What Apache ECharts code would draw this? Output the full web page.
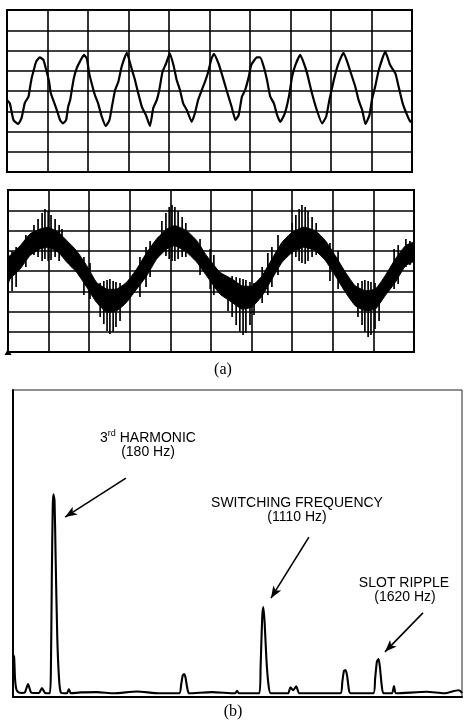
<!DOCTYPE html>
<html><head><meta charset="utf-8">
<script src="https://cdn.jsdelivr.net/npm/echarts@6/dist/echarts.min.js"></script>
<style>html,body{margin:0;padding:0;background:#fff}#c{width:464px;height:722px}</style>
</head><body><div id="c"></div>
<script>
// ---- (a) upper oscillogram: time (divisions) and voltage (divisions) ----
const topX = [0.00,0.07,0.16,0.28,0.36,0.44,0.53,0.57,0.61,0.65,0.72,0.81,0.90,0.98,1.04,1.08,1.14,1.23,1.31,1.38,1.46,1.51,1.56,1.60,1.65,1.72,1.80,1.90,1.97,2.03,2.09,2.17,2.25,2.34,2.44,2.53,2.59,2.67,2.75,2.83,2.96,3.04,3.10,3.16,3.24,3.33,3.43,3.53,3.61,3.70,3.76,3.84,3.93,4.02,4.11,4.19,4.27,4.35,4.44,4.56,4.64,4.72,4.81,4.89,4.97,5.05,5.11,5.22,5.30,5.42,5.55,5.64,5.72,5.80,5.88,5.97,6.03,6.17,6.25,6.34,6.42,6.50,6.59,6.67,6.75,6.86,6.96,7.04,7.12,7.24,7.33,7.41,7.53,7.65,7.78,7.88,7.96,8.07,8.17,8.31,8.40,8.48,8.60,8.68,8.77,8.85,8.95,9.01,9.09,9.18,9.34,9.46,9.59,9.67,9.77,9.88,9.96,10.0];
const topY = [-0.44,-0.61,-1.43,-1.63,-1.33,-0.59,-0.28,0.20,0.64,0.95,1.45,1.66,1.53,0.95,0.46,-0.10,-0.44,-0.94,-1.43,-1.60,-1.43,-0.78,-0.44,0.05,0.63,1.12,1.45,1.78,1.61,0.87,0.38,-0.20,-0.61,-1.27,-1.73,-1.43,-0.78,0.05,0.46,1.20,1.89,1.37,0.95,0.54,-0.11,-0.78,-1.19,-1.73,-0.85,-0.44,0.05,0.95,1.37,1.86,1.28,0.54,0.05,-0.61,-0.94,-1.52,-1.10,-0.44,0.05,0.46,0.95,1.61,1.83,1.37,0.87,0.05,-0.80,-1.43,-1.19,-0.28,0.05,0.71,1.28,1.66,1.66,1.20,0.54,-0.28,-0.61,-1.19,-1.52,-1.10,-0.28,0.71,1.28,1.78,1.37,0.87,-0.11,-0.94,-1.60,-1.27,-0.44,0.54,1.28,1.89,1.45,0.95,0.21,-0.44,-0.94,-1.63,-1.19,-0.44,0.21,1.04,1.94,1.28,0.87,0.21,-0.61,-1.19,-1.52,-1.43];

// ---- (a) lower oscillogram: ripple band envelope ----
const botX = [0,0.05,0.30,0.54,0.79,0.99,1.24,1.45,1.69,1.94,2.18,2.43,2.68,2.92,3.17,3.42,3.66,3.91,4.11,4.40,4.65,4.89,5.22,5.52,5.76,6.01,6.26,6.50,6.75,7.00,7.28,7.57,7.82,8.06,8.31,8.55,8.80,9.05,9.29,9.54,9.79,10.0];
const botUpper = [0.69,0.76,1.25,1.83,2.07,2.16,1.91,1.50,1.00,0.26,-0.56,-0.89,-0.89,-0.56,0.10,0.92,1.58,2.07,2.24,1.99,1.50,0.76,-0.06,-0.40,-0.73,-0.74,-0.23,0.59,1.42,1.91,2.16,1.99,1.50,0.76,-0.06,-0.73,-0.97,-0.89,-0.23,0.59,1.25,1.42];
const botLower = [-0.64,-0.40,0.10,0.76,1.09,1.17,0.92,0.43,-0.06,-0.80,-1.55,-2.04,-1.96,-1.55,-0.89,-0.23,0.59,1.09,1.25,0.92,0.43,-0.23,-1.14,-1.55,-1.88,-1.78,-1.22,-0.40,0.43,0.92,1.17,1.00,0.51,-0.23,-1.05,-1.71,-1.96,-1.88,-1.22,-0.56,0.26,0.49];
// ripple spikes: [time, low, high]
const spikes = [[0.10,-0.99,0.99],[0.20,-0.79,1.19],[0.44,0.20,1.78],[0.64,0.79,2.27],[0.74,0.69,2.57],[0.84,0.49,2.86],[0.91,0.59,3.06],[0.99,0.49,2.96],[1.06,0.54,2.77],[1.16,0.69,2.57],[1.26,0.49,2.27],[1.33,0.74,2.07],[1.87,-1.19,0.69],[2.02,-1.38,0.40],[2.27,-2.27,-0.59],[2.36,-2.62,-0.49],[2.44,-2.96,-0.44],[2.51,-3.11,-0.40],[2.59,-3.01,-0.49],[2.66,-2.77,-0.54],[2.76,-2.47,-0.59],[3.25,-1.28,0.69],[3.40,-0.79,1.19],[3.50,-0.30,1.48],[3.79,0.89,2.47],[3.89,0.74,2.86],[3.97,0.59,3.16],[4.04,0.49,3.26],[4.11,0.49,3.16],[4.19,0.59,2.96],[4.29,0.69,2.67],[4.38,0.69,2.37],[4.73,-0.20,1.58],[4.98,-0.89,1.09],[5.07,-1.19,0.79],[5.42,-1.98,-0.40],[5.52,-2.27,-0.25],[5.62,-2.67,-0.30],[5.71,-3.01,-0.35],[5.79,-3.16,-0.40],[5.86,-3.06,-0.44],[5.96,-2.67,-0.54],[6.06,-2.17,-0.59],[6.26,-1.58,0.20],[6.40,-1.19,0.89],[6.50,-0.79,1.19],[6.65,-0.20,1.78],[7.00,0.84,2.37],[7.09,0.69,2.77],[7.17,0.49,3.06],[7.24,0.40,3.26],[7.32,0.35,3.16],[7.39,0.49,2.96],[7.49,0.69,2.67],[7.59,0.79,2.37],[7.93,-0.49,1.38],[8.13,-0.89,0.99],[8.62,-2.27,-0.59],[8.72,-2.67,-0.49],[8.79,-3.01,-0.44],[8.87,-3.26,-0.49],[8.94,-3.16,-0.54],[9.04,-2.86,-0.59],[9.14,-2.47,-0.69],[9.51,-0.89,1.09],[9.61,-0.64,1.28],[9.80,0.20,1.58],[9.90,0.30,1.48]];

// ---- (b) spectrum: frequency (Hz) and amplitude ----
const specF = [0,5,9,15,25,40,53,67,80,98,116,129,143,164,169,173,177,180,185,190,197,205,213,240,249,258,300,374,450,552,650,741,749,756,762,768,776,784,886,990,998,1006,1097,1103,1110,1115,1121,1129,1138,1148,1225,1236,1248,1262,1275,1380,1459,1467,1474,1481,1488,1497,1504,1605,1613,1621,1628,1634,1642,1650,1688,1697,1706,1844,1920,1985,1995,2000];
const specA = [13.7,13,6,2.5,1.5,1.3,1.5,4.2,1.5,1.3,1.3,2.9,1.3,1.2,10,40,62,66,64,45,20,6,1.5,1.2,2.5,1.2,1.5,1.6,1.2,1.8,1.2,1.2,4,7,7.5,6.5,3,1.2,1.6,1.2,2.0,1.2,1.2,10,26,29.3,24,12,4,1.2,1.2,3.2,2.2,3.5,1.2,1.2,1.2,5,8.5,8.8,7,2,1.2,1.2,6,11.5,12.4,10,4,1.2,1.2,3.6,1.2,1.7,1.2,2.2,1.8,1.2];

// annotation arrows [fromF, fromA, toF, toA]
const arrows = [[503,71.3,232,58.6],[1318,52.1,1149,32.2],[1826,27.4,1657,14.7]];
const labels = ['3rd HARMONIC','(180 Hz)','SWITCHING FREQUENCY','(1110 Hz)','SLOT RIPPLE','(1620 Hz)','(a)','(b)'];

const chart = echarts.init(document.getElementById('c'), null, {renderer:'canvas'});
const SANS = '"Liberation Sans", Arial, sans-serif';
const SERIF = '"Liberation Serif", "Times New Roman", serif';

function scopeX(i){return {gridIndex:i,type:'value',min:0,max:10,interval:1,axisLine:{show:false},axisTick:{show:false},axisLabel:{show:false},splitLine:{show:true,lineStyle:{color:'#000',width:1.6}}};}
function scopeY(i){return {gridIndex:i,type:'value',min:-4,max:4,interval:1,axisLine:{show:false},axisTick:{show:false},axisLabel:{show:false},splitLine:{show:true,lineStyle:{color:'#000',width:1.6}}};}

const option = {
  animation:false,
  backgroundColor:'#fff',
  grid:[
    {left:7,top:10,width:405,height:162,show:true,borderColor:'#000',borderWidth:2,backgroundColor:'transparent'},
    {left:8,top:190,width:406,height:162,show:true,borderColor:'#000',borderWidth:2,backgroundColor:'transparent'},
    {left:13,top:390,width:449,height:307,show:true,borderColor:'#222',borderWidth:1,backgroundColor:'transparent'}
  ],
  xAxis:[scopeX(0),scopeX(1),
    {gridIndex:2,type:'value',min:0,max:2000,axisLine:{show:true,onZero:false,lineStyle:{color:'#000',width:2}},axisTick:{show:false},axisLabel:{show:false},splitLine:{show:false}}],
  yAxis:[scopeY(0),scopeY(1),
    {gridIndex:2,type:'value',min:0,max:100,axisLine:{show:true,onZero:false,lineStyle:{color:'#000',width:2}},axisTick:{show:false},axisLabel:{show:false},splitLine:{show:false}}],
  series:[
    {type:'line',xAxisIndex:0,yAxisIndex:0,data:topX.map((x,i)=>[x,topY[i]]),showSymbol:false,smooth:0.15,lineStyle:{color:'#000',width:2.2},z:5},
    {type:'custom',xAxisIndex:1,yAxisIndex:1,data:[[0,0]],clip:true,z:5,
      renderItem:function(params,api){
        const pts=[];
        for(let i=0;i<botX.length;i++) pts.push(api.coord([botX[i],botUpper[i]]));
        for(let i=botX.length-1;i>=0;i--) pts.push(api.coord([botX[i],botLower[i]]));
        return {type:'polygon',shape:{points:pts,smooth:0.15},style:{fill:'#000',stroke:'#000',lineWidth:1}};
      },
      markPoint:{symbol:'triangle',symbolSize:[7,6],itemStyle:{color:'#000'},label:{show:false},data:[{coord:[0,-4],symbolOffset:[0,0]}]}
    },
    {type:'custom',xAxisIndex:1,yAxisIndex:1,data:spikes,encode:{x:0,y:[1,2]},clip:true,z:6,
      renderItem:function(params,api){
        const a=api.coord([api.value(0),api.value(1)]);
        const b=api.coord([api.value(0),api.value(2)]);
        return {type:'line',shape:{x1:a[0],y1:a[1],x2:b[0],y2:b[1]},style:{stroke:'#000',lineWidth:1.7}};
      }
    },
    {type:'line',xAxisIndex:2,yAxisIndex:2,data:specF.map((f,i)=>[f,specA[i]]),showSymbol:false,smooth:0.2,lineStyle:{color:'#000',width:2.1},z:5,
      markLine:{silent:true,symbol:['none','arrow'],symbolSize:[7,12],label:{show:false},lineStyle:{color:'#000',width:1.6,type:'solid'},
        data:arrows.map(a=>[{coord:[a[0],a[1]]},{coord:[a[2],a[3]]}])}
    }
  ],
  graphic:[
    {type:'text',x:148,y:437,style:{text:'{n|3}{s|rd}{n| HARMONIC}',align:'center',verticalAlign:'middle',
      rich:{n:{fontSize:14,fontFamily:SANS,fill:'#000',lineHeight:16,verticalAlign:'bottom'},s:{fontSize:9,fontFamily:SANS,fill:'#000',lineHeight:16,verticalAlign:'top'}}}},
    {type:'text',x:148,y:452,style:{text:labels[1],font:'14px '+SANS,fill:'#000',align:'center',verticalAlign:'middle'}},
    {type:'text',x:297,y:503,style:{text:labels[2],font:'14px '+SANS,fill:'#000',align:'center',verticalAlign:'middle'}},
    {type:'text',x:297,y:517,style:{text:labels[3],font:'14px '+SANS,fill:'#000',align:'center',verticalAlign:'middle'}},
    {type:'text',x:404,y:583,style:{text:labels[4],font:'14px '+SANS,fill:'#000',align:'center',verticalAlign:'middle'}},
    {type:'text',x:405,y:597,style:{text:labels[5],font:'14px '+SANS,fill:'#000',align:'center',verticalAlign:'middle'}},
    {type:'text',x:223,y:370,style:{text:labels[6],font:'16px '+SERIF,fill:'#000',align:'center',verticalAlign:'middle'}},
    {type:'text',x:233,y:712,style:{text:labels[7],font:'16px '+SERIF,fill:'#000',align:'center',verticalAlign:'middle'}}
  ]
};
chart.setOption(option);
</script>
</body></html>
